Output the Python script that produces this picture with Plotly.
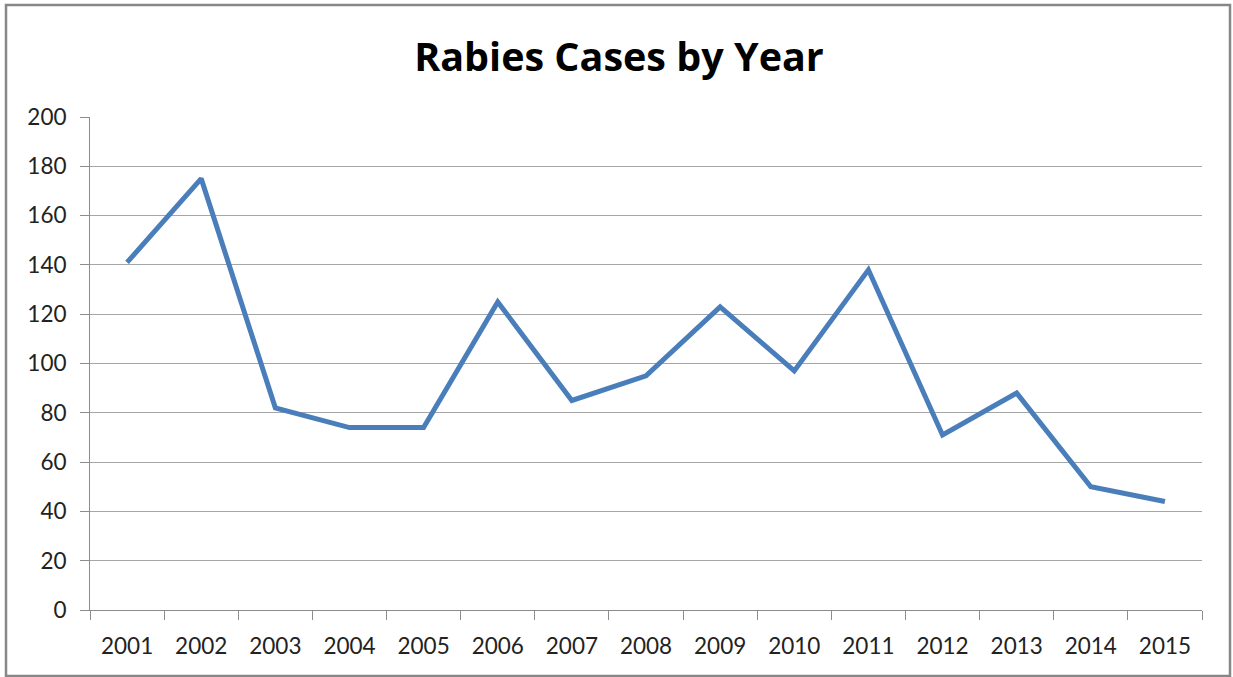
import plotly.graph_objects as go

years = ["2001", "2002", "2003", "2004", "2005", "2006", "2007", "2008",
         "2009", "2010", "2011", "2012", "2013", "2014", "2015"]
cases = [141, 175, 82, 74, 74, 125, 85, 95, 123, 97, 138, 71, 88, 50, 44]

y_ticks = list(range(0, 201, 20))

FONT = "Lato"
AXIS_GRAY = "#8c8c8c"
GRID_GRAY = "#a6a6a6"

fig = go.Figure()
fig.add_trace(go.Scatter(
    x=years, y=cases, mode="lines",
    line=dict(color="#4a7ebb", width=5),
    hoverinfo="x+y",
))

fig.update_layout(
    width=1233, height=677,
    margin=dict(l=90, r=31, t=117, b=67, autoexpand=False),
    paper_bgcolor="white", plot_bgcolor="white",
    showlegend=False,
    title=dict(
        text="<b>Rabies Cases by Year</b>",
        font=dict(family="Open Sans", size=39.5, color="#000000"),
        x=0.502, xanchor="center", y=1 - 57 / 677, yanchor="middle",
    ),
    font=dict(family=FONT, size=22, color="#222222"),
)

fig.update_xaxes(
    type="category",
    range=[-0.5, len(years) - 0.5],
    tickson="boundaries",
    ticks="outside", ticklen=9, tickwidth=1, tickcolor=AXIS_GRAY,
    showline=True, linecolor=AXIS_GRAY, linewidth=1,
    showgrid=False,
    ticklabelstandoff=16,
    tickfont=dict(family=FONT, size=22.5, color="#222222"),
)

fig.update_yaxes(
    range=[0, 200], tickvals=y_ticks,
    ticks="outside", ticklen=9, tickwidth=1, tickcolor=AXIS_GRAY,
    showline=True, linecolor=AXIS_GRAY, linewidth=1,
    showgrid=True, gridcolor=GRID_GRAY, gridwidth=1,
    zeroline=False,
    ticklabelstandoff=9,
    tickfont=dict(family=FONT, size=22.5, color="#222222"),
)

# chart-area frame around the whole figure
fig.add_shape(
    type="rect", xref="paper", yref="paper",
    xsizemode="pixel", ysizemode="pixel", xanchor=0, yanchor=0,
    x0=-84, x1=1140, y0=-66, y1=605,
    line=dict(color="#878787", width=2.5),
    fillcolor="rgba(0,0,0,0)", layer="below",
)

fig.write_html("out.html")
